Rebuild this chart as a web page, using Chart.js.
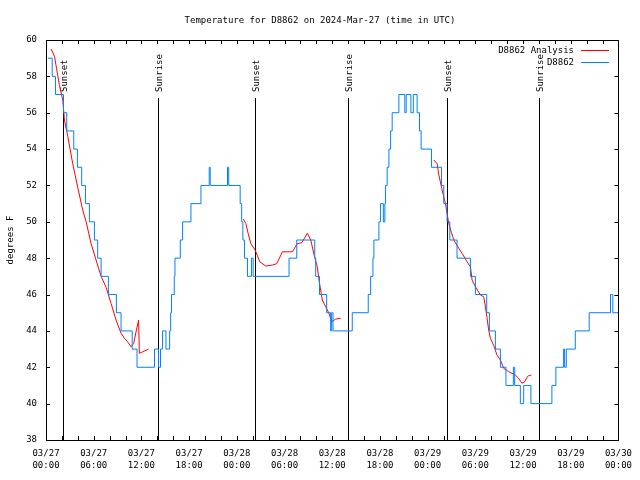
<!DOCTYPE html>
<html lang="en">
  <head>
    <meta charset="UTF-8" />
    <title>Temperature for D8862</title>
    <script src="https://cdn.jsdelivr.net/npm/chart.js"></script>
    <style>
      body { margin: 0; background: #fff; }
    </style>
  </head>
  <body>
    <canvas id="myChart" width="640" height="480"></canvas>
    <script>
      // all times are hours since 03/27 00:00 UTC
      const obsHours = [0.23, 0.78, 1.19, 2.2, 2.61, 3.49, 3.95, 4.49, 4.96, 5.46, 6.09, 6.5, 6.93, 7.85, 8.85,
        9.44, 10.84, 11.45, 13.65, 14.15, 14.4, 14.66, 15.09, 15.55, 15.68, 15.79, 16.13, 16.22, 16.89, 17.18,
        18.23, 19.49, 20.53, 20.65, 22.83, 22.98, 24.42, 24.61, 24.76, 24.96, 25.34, 25.84, 26.05, 30.57, 31.54,
        33.8, 33.92, 34.4, 35.3, 35.8, 35.93, 36.1, 38.52, 40.53, 40.83, 41.12, 41.24, 41.87, 42.08, 42.43,
        42.62, 42.71, 42.91, 43.13, 43.34, 43.54, 44.38, 45.13, 45.3, 45.89, 46.2, 46.68, 46.98, 47.18, 48.49,
        49.74, 50.03, 50.45, 50.79, 51.7, 53.38, 54.01, 55.43, 55.77, 56.52, 57.15, 57.85, 58.78, 58.95, 59.66,
        60.08, 60.99, 63.63, 64.13, 65.1, 65.23, 65.44, 66.57, 68.32, 71.0, 71.29, 72];
      const obsTemps = [59, 58, 57, 56, 55, 54, 53, 52, 51, 50, 49, 48, 47, 46, 45,
        44, 43, 42, 43, 42, 43, 44, 43, 44, 45, 46, 47, 48, 49, 50,
        51, 52, 53, 52, 53, 52, 51, 50, 49, 48, 47, 48, 47, 48, 49,
        48, 47, 46, 45, 44, 45, 44, 45, 46, 47, 48, 49, 50, 51, 50,
        51, 52, 53, 54, 55, 56, 57, 56, 57, 56, 57, 56, 55, 54, 53,
        52, 51, 50, 49, 48, 47, 46, 45, 44, 43, 42, 41, 42, 41, 40,
        41, 40, 41, 42, 43, 42, 43, 44, 45, 46, 45, 45];

      // analysis, null marks a gap between runs
      const anaHours = [0.65, 1.07, 1.69, 2.11, 2.32, 2.74, 3.36, 3.99, 4.62, 5.05, 5.67, 6.3, 6.93, 7.56, 8.19,
        8.81, 9.44, 9.86, 10.27, 10.7, 11.02, 11.4, 11.65, 11.74, 12.15, 12.9,
        18,
        24.83, 25.14, 25.42, 25.76, 26.3, 26.89, 27.65, 28.47, 29.03, 29.73, 30.99, 31.61, 32.17, 32.87, 33.3,
        33.71, 34.12, 34.34, 34.75, 35.18, 35.59, 35.93, 36.43, 37.06,
        42,
        48.78, 49.19, 49.4, 49.82, 50.24, 50.66, 51.0, 51.29, 51.92, 52.33, 52.96, 53.38, 53.59, 54.01, 54.64,
        55.05, 55.27, 55.68, 55.89, 56.31, 56.72, 57.15, 57.57, 58.19, 59.03, 59.45, 59.86, 60.2, 60.49, 60.7, 61.04];
      const anaTemps = [59.5, 59.1, 57.5, 56.7, 55.6, 54.7, 53.2, 51.9, 50.65, 50.0, 48.8, 47.9, 47.0, 46.4, 45.5,
        44.6, 43.87, 43.6, 43.4, 43.13, 43.3, 44.1, 44.6, 42.77, 42.85, 43.0,
        null,
        50.15, 49.9, 49.37, 48.8, 48.45, 47.8, 47.57, 47.62, 47.7, 48.35, 48.35, 48.8, 48.85, 49.37, 49.0,
        48.2, 47.53, 46.8, 45.7, 45.33, 44.97, 44.5, 44.65, 44.69,
        null,
        53.4, 53.2, 52.6, 51.75, 51.0, 49.9, 49.4, 49.0, 48.54, 48.27, 47.8, 47.53, 46.8, 46.43, 45.97,
        45.88, 45.33, 44.05, 43.6, 43.2, 42.67, 42.4, 41.94, 41.76, 41.57, 41.39, 41.12, 41.2, 41.45, 41.53, 41.57];

      const sunsetHours = [2.2, 26.3, 50.4];
      const sunriseHours = [14.05, 38.0, 62.05];
      const dayLabels = ['03/27', '03/28', '03/29', '03/30'];

      const FONT = '"DejaVu Sans Mono", monospace';

      function toPoints(xs, ys) {
        return xs.map((h, i) => ({ x: h, y: ys[i] }));
      }

      function crisp(v) {
        return Math.round(v) + 0.5;
      }

      // gnuplot style frame, inward tics, sun lines, title and key
      const gnuplotBits = {
        id: 'gnuplotBits',
        beforeDatasetsDraw(chart) {
          const { ctx, chartArea: a, scales: { x, y } } = chart;
          ctx.save();
          ctx.strokeStyle = '#000';
          ctx.lineWidth = 1;
          ctx.beginPath();
          for (let h = 0; h <= 72; h += 2) {
            const px = crisp(x.getPixelForValue(h));
            ctx.moveTo(px, a.bottom); ctx.lineTo(px, a.bottom - 4);
            ctx.moveTo(px, a.top); ctx.lineTo(px, a.top + 4);
          }
          for (let v = 38; v <= 60; v += 2) {
            const py = crisp(y.getPixelForValue(v));
            ctx.moveTo(a.left, py); ctx.lineTo(a.left + 4, py);
            ctx.moveTo(a.right, py); ctx.lineTo(a.right - 4, py);
          }
          ctx.stroke();
          ctx.strokeRect(crisp(a.left), crisp(a.top), Math.round(a.width), Math.round(a.height));

          const events = sunsetHours.map(h => [h, 'Sunset'])
            .concat(sunriseHours.map(h => [h, 'Sunrise']));
          ctx.font = '9px ' + FONT;
          ctx.fillStyle = '#000';
          events.forEach(([h, label]) => {
            const px = crisp(x.getPixelForValue(h));
            ctx.beginPath();
            ctx.moveTo(px, 98);
            ctx.lineTo(px, a.bottom);
            ctx.stroke();
            ctx.save();
            ctx.translate(px + 1, 92);
            ctx.rotate(-Math.PI / 2);
            ctx.textAlign = 'left';
            ctx.textBaseline = 'middle';
            ctx.fillText(label, 0, 0);
            ctx.restore();
          });
          ctx.restore();
        },
        afterDraw(chart) {
          const { ctx } = chart;
          ctx.save();
          ctx.font = '9px ' + FONT;
          ctx.fillStyle = '#000';
          ctx.textAlign = 'center';
          ctx.textBaseline = 'alphabetic';
          ctx.fillText('Temperature for D8862 on 2024-Mar-27 (time in UTC)', 320, 23);

          const keys = [['D8862 Analysis', 'rgb(255,0,0)', 50.5], ['D8862', 'rgb(0,128,255)', 62.5]];
          ctx.textAlign = 'right';
          ctx.textBaseline = 'middle';
          keys.forEach(([label, color, ky]) => {
            ctx.fillStyle = '#000';
            ctx.fillText(label, 574, ky);
            ctx.strokeStyle = color;
            ctx.lineWidth = 1;
            ctx.beginPath();
            ctx.moveTo(581, ky);
            ctx.lineTo(609, ky);
            ctx.stroke();
          });
          ctx.restore();
        }
      };

      function renderChart() {
        const ctx = document.getElementById('myChart');
        new Chart(ctx, {
          type: 'line',
          data: {
            datasets: [
              {
                label: 'D8862',
                data: toPoints(obsHours, obsTemps),
                borderColor: 'rgb(0,128,255)',
                borderWidth: 1,
                pointRadius: 0,
                stepped: true,
                fill: false
              },
              {
                label: 'D8862 Analysis',
                data: toPoints(anaHours, anaTemps),
                borderColor: 'rgb(255,0,0)',
                borderWidth: 1,
                pointRadius: 0,
                tension: 0,
                spanGaps: false,
                fill: false
              }
            ]
          },
          options: {
            responsive: false,
            animation: false,
            layout: { padding: { left: 0, right: 20, top: 40, bottom: 0 } },
            plugins: {
              legend: { display: false },
              tooltip: { enabled: false }
            },
            scales: {
              x: {
                type: 'linear',
                min: 0,
                max: 72,
                border: { display: false },
                grid: { display: false, drawTicks: false },
                ticks: {
                  stepSize: 6,
                  autoSkip: false,
                  maxRotation: 0,
                  padding: 8,
                  color: '#000',
                  font: { family: FONT, size: 9, lineHeight: '12px' },
                  callback: (v) => {
                    const day = dayLabels[Math.floor(v / 24)];
                    const hh = String(v % 24).padStart(2, '0');
                    return [day, hh + ':00'];
                  }
                },
                afterFit: (s) => { s.height = 40; }
              },
              y: {
                min: 38,
                max: 60,
                border: { display: false },
                grid: { display: false, drawTicks: false },
                ticks: {
                  stepSize: 2,
                  padding: 9,
                  color: '#000',
                  font: { family: FONT, size: 9 }
                },
                title: {
                  display: true,
                  text: 'degrees F',
                  color: '#000',
                  padding: { top: 5.5, bottom: 0 },
                  font: { family: FONT, size: 9 }
                },
                afterFit: (s) => { s.width = 46; }
              }
            }
          },
          plugins: [gnuplotBits]
        });
      }

      renderChart();
    </script>
  </body>
</html>
